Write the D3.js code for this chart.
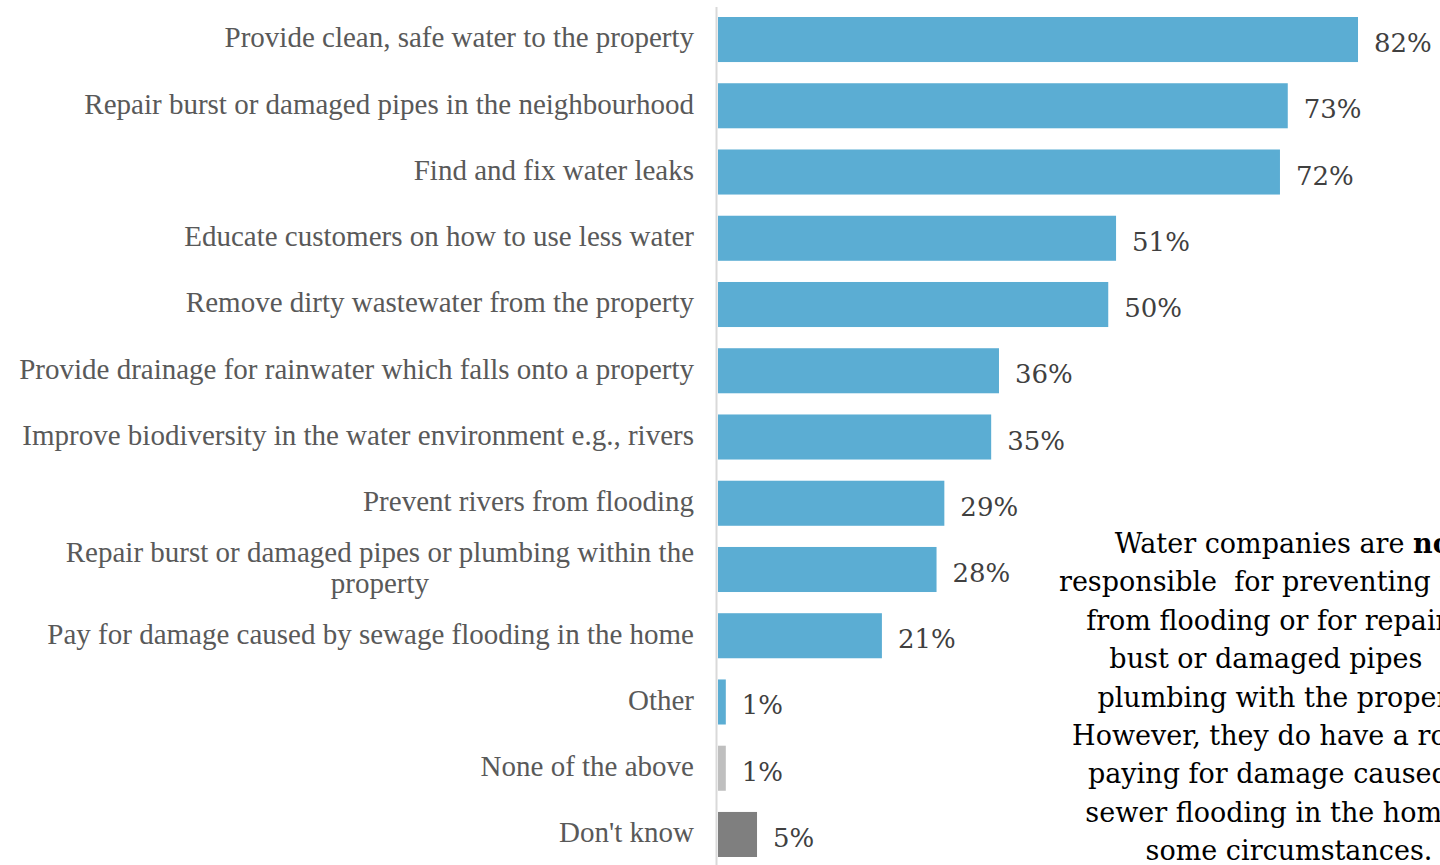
<!DOCTYPE html>
<html>
<head>
<meta charset="utf-8">
<script src="https://cdn.jsdelivr.net/npm/d3@7"></script>
<style>
  html, body { margin: 0; padding: 0; background: #ffffff; overflow: hidden; }
  svg { display: block; }
</style>
</head>
<body>
<svg id="chart" width="1440" height="865"></svg>
<script>
// Responsibilities of water companies (share of respondents, %)
const categories = [
  "Provide clean, safe water to the property",
  "Repair burst or damaged pipes in the neighbourhood",
  "Find and fix water leaks",
  "Educate customers on how to use less water",
  "Remove dirty wastewater from the property",
  "Provide drainage for rainwater which falls onto a property",
  "Improve biodiversity in the water environment e.g., rivers",
  "Prevent rivers from flooding",
  "Repair burst or damaged pipes or plumbing within the|property",
  "Pay for damage caused by sewage flooding in the home",
  "Other",
  "None of the above",
  "Don't know"
];
const values = [82, 73, 72, 51, 50, 36, 35, 29, 28, 21, 1, 1, 5];
const barKinds = ["answer","answer","answer","answer","answer","answer","answer",
                  "answer","answer","answer","answer","none","dontknow"];

const noteLines = [
  [["Water companies are ", false], ["not", true]],
  [["responsible  for preventing rivers", false]],
  [["from flooding or for repairing", false]],
  [["bust or damaged pipes  or", false]],
  [["plumbing with the property.", false]],
  [["However, they do have a role in", false]],
  [["paying for damage caused by", false]],
  [["sewer flooding in the home in", false]],
  [["some circumstances.", false]]
];

const colour = d3.scaleOrdinal()
  .domain(["answer", "none", "dontknow"])
  .range(["#5BADD3", "#BFBFBF", "#7F7F7F"]);

const svg = d3.select("#chart");

const x = d3.scaleLinear().domain([0, 100]).range([718, 1498.5]);
const y = d3.scaleBand()
  .domain(categories)
  .range([6.4, 867.6])
  .paddingInner(0.32)
  .paddingOuter(0.16);

// Bars
svg.append("g")
  .selectAll("rect")
  .data(categories)
  .join("rect")
  .attr("x", x(0))
  .attr("y", d => y(d))
  .attr("width", (d, i) => x(values[i]) - x(0))
  .attr("height", y.bandwidth())
  .attr("fill", (d, i) => colour(barKinds[i]));

// Category axis line
svg.append("line")
  .attr("x1", 716.5).attr("x2", 716.5)
  .attr("y1", 7).attr("y2", 865)
  .attr("stroke", "#D9D9D9")
  .attr("stroke-width", 2);

// Category labels (right aligned; wrapped lines centred on each other)
const labelRight = 694;
const labelG = svg.append("g")
  .attr("font-family", "'Liberation Serif', 'Times New Roman', serif")
  .attr("font-size", 29)
  .attr("fill", "#595959");

categories.forEach((c, i) => {
  const lines = c.split("|");
  const cy = y(c) + y.bandwidth() / 2;
  const lh = 31;
  const t = labelG.append("text").attr("text-anchor", "middle");
  lines.forEach((ln, k) => {
    t.append("tspan")
      .attr("x", 0)
      .attr("y", cy + (k - (lines.length - 1) / 2) * lh)
      .attr("dy", "0.27em")
      .text(ln);
  });
  const w = d3.max(t.selectAll("tspan").nodes(), n => n.getComputedTextLength());
  t.selectAll("tspan").attr("x", labelRight - w / 2);
});

// Value labels
svg.append("g")
  .attr("font-family", "'DejaVu Serif', Georgia, serif")
  .attr("font-size", 26)
  .attr("fill", "#404040")
  .selectAll("text")
  .data(categories)
  .join("text")
  .attr("x", (d, i) => x(values[i]) + 16)
  .attr("y", d => y(d) + y.bandwidth() / 2 + 12.5)
  .text((d, i) => values[i] + "%");

// Explanatory note
const note = svg.append("g")
  .attr("font-family", "'DejaVu Serif', Georgia, serif")
  .attr("font-size", 27)
  .attr("fill", "#000000");

noteLines.forEach((parts, i) => {
  const t = note.append("text")
    .attr("x", 1289)
    .attr("y", 553 + i * 38.4)
    .attr("text-anchor", "middle");
  parts.forEach(([s, bold]) => {
    t.append("tspan")
      .attr("font-weight", bold ? "bold" : "normal")
      .style("white-space", "pre")
      .text(s);
  });
});
</script>
</body>
</html>
